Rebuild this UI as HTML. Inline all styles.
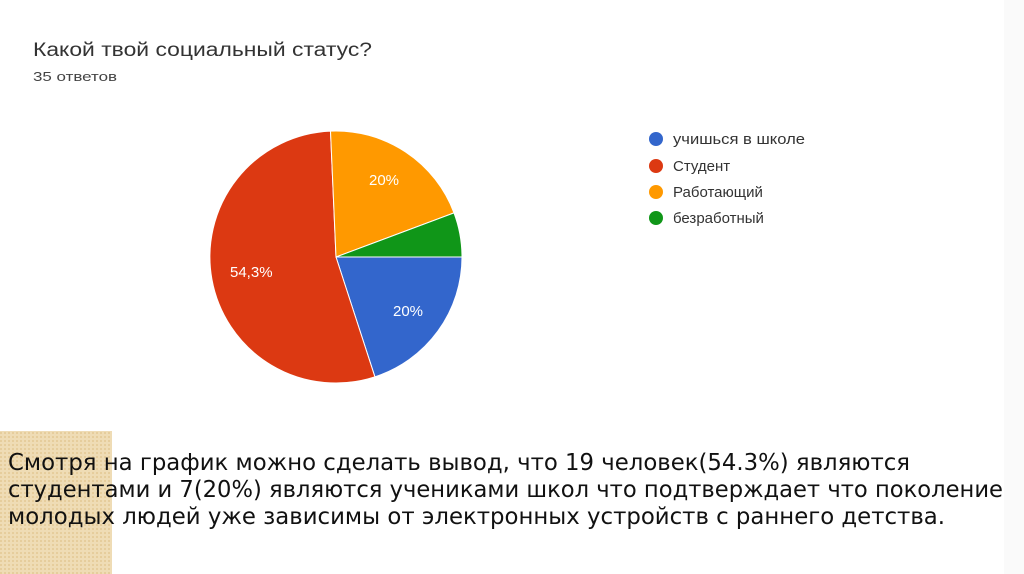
<!DOCTYPE html>
<html><head><meta charset="utf-8"><style>
html,body{margin:0;padding:0;background:#fff}
svg{display:block}
</style></head><body>
<svg width="1024" height="574" viewBox="0 0 1024 574" xmlns="http://www.w3.org/2000/svg">
<defs>
<pattern id="tx" width="4" height="4" patternUnits="userSpaceOnUse">
<rect width="4" height="4" fill="#efdcb5"/><rect width="2" height="2" fill="#e6cd9c"/>
</pattern>
</defs>
<rect width="1024" height="574" fill="#fff"/>
<rect x="1004" y="0" width="20" height="574" fill="#fafafa"/>
<rect x="0" y="431" width="112" height="143" fill="url(#tx)"/>
<g font-family="'Liberation Sans', sans-serif">
<text x="33" y="56" font-size="19" fill="#333" textLength="339" lengthAdjust="spacingAndGlyphs">Какой твой социальный статус?</text>
<text x="33" y="81" font-size="13" fill="#444" textLength="84" lengthAdjust="spacingAndGlyphs">35 ответов</text>
<path d="M336 257 L462 257 A126 126 0 0 1 374.9 376.8 Z" fill="#3366cc" stroke="#fff" stroke-width="1"/>
<path d="M336 257 L374.9 376.8 A126 126 0 1 1 330.5 131.1 Z" fill="#dc3912" stroke="#fff" stroke-width="1"/>
<path d="M336 257 L330.5 131.1 A126 126 0 0 1 454 212.9 Z" fill="#ff9900" stroke="#fff" stroke-width="1"/>
<path d="M336 257 L454 212.9 A126 126 0 0 1 462 257 Z" fill="#109618" stroke="#fff" stroke-width="1"/>
<text x="393" y="316" font-size="15" fill="#fff">20%</text>
<text x="230" y="277" font-size="15" fill="#fff">54,3%</text>
<text x="369" y="185" font-size="15" fill="#fff">20%</text>
<circle cx="656" cy="139" r="7" fill="#3366cc"/>
<circle cx="656" cy="166" r="7" fill="#dc3912"/>
<circle cx="656" cy="192" r="7" fill="#ff9900"/>
<circle cx="656" cy="218" r="7" fill="#109618"/>
<g font-size="15" fill="#333">
<text x="673" y="144" textLength="132" lengthAdjust="spacingAndGlyphs">учишься в школе</text>
<text x="673" y="171">Студент</text>
<text x="673" y="197">Работающий</text>
<text x="673" y="223">безработный</text>
</g>
</g>
<g font-family="'DejaVu Sans', 'Liberation Sans', sans-serif" font-size="23" fill="#111">
<text x="8" y="470" textLength="902" lengthAdjust="spacingAndGlyphs">Смотря на график можно сделать вывод, что 19 человек(54.3%) являются</text>
<text x="8" y="497" textLength="995" lengthAdjust="spacingAndGlyphs">студентами и 7(20%) являются учениками школ что подтверждает что поколение</text>
<text x="8" y="524" textLength="937" lengthAdjust="spacingAndGlyphs">молодых людей уже зависимы от электронных устройств с раннего детства.</text>
</g>
</svg>
</body></html>
